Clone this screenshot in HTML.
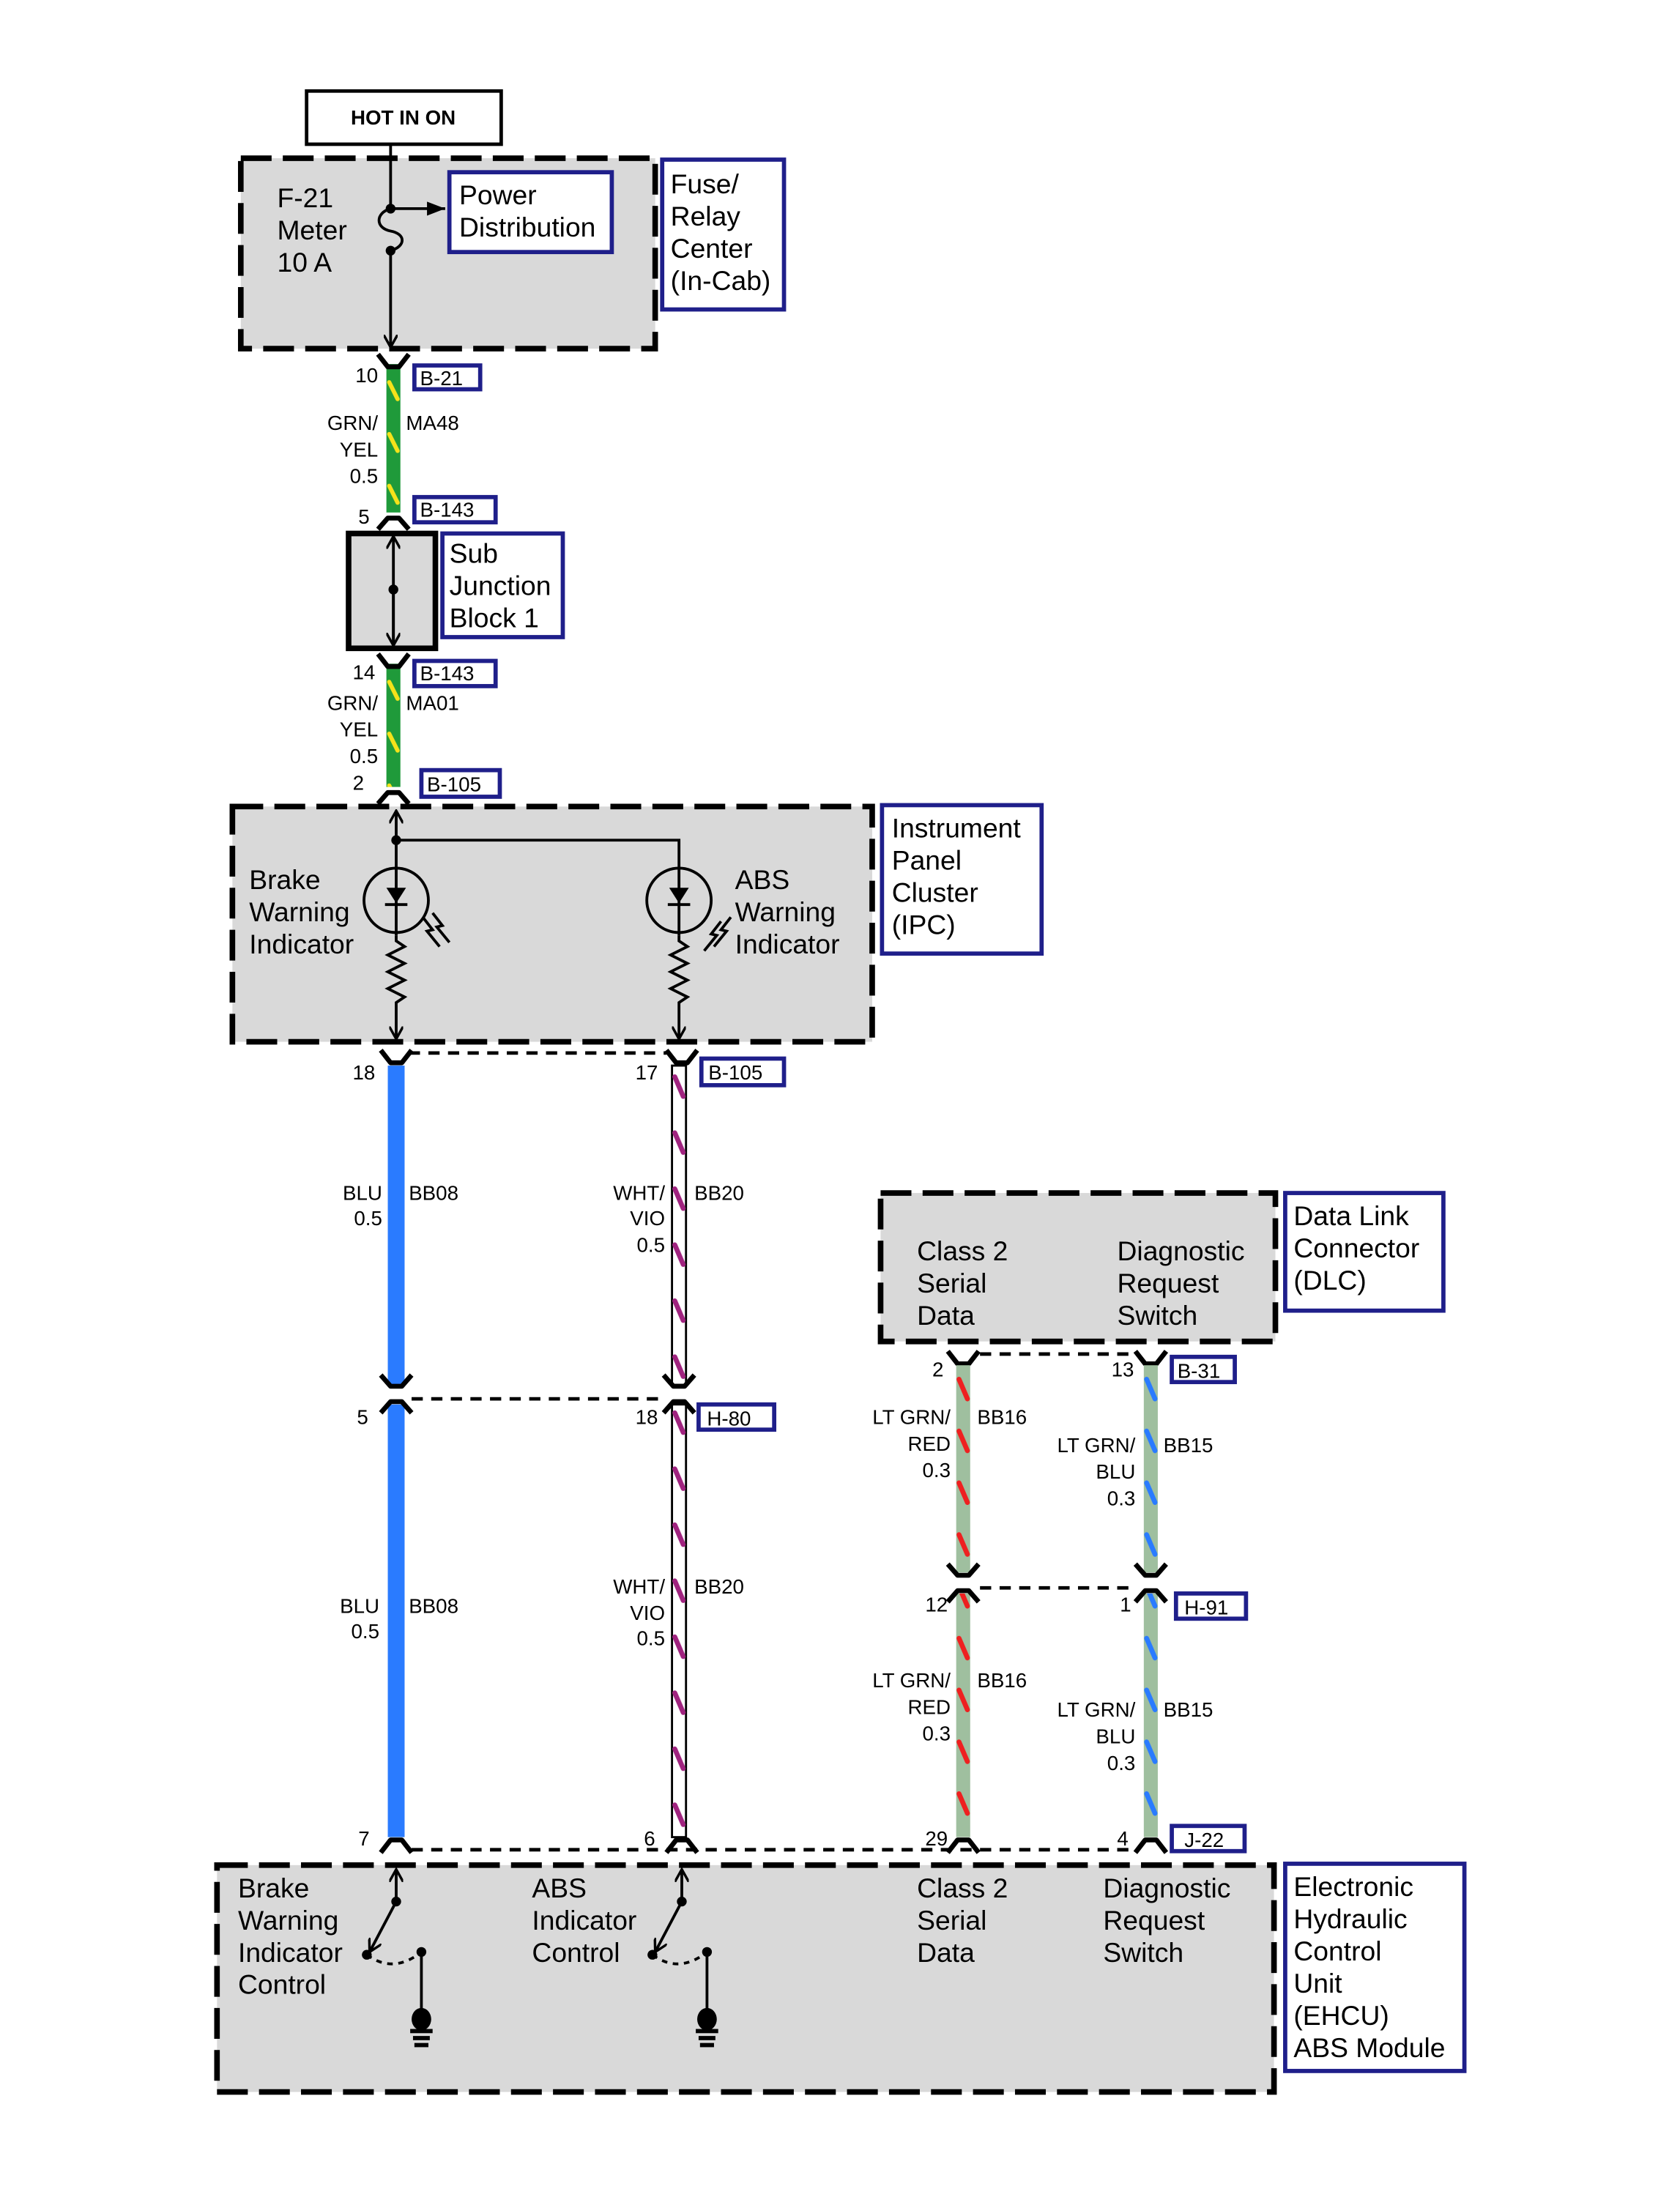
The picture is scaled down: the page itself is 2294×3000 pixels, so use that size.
<!DOCTYPE html>
<html><head><meta charset="utf-8"><style>
html,body{margin:0;padding:0;background:#fff;}
svg{display:block;}
text{font-family:"Liberation Sans",Arial,sans-serif;fill:#000;}
.b{font-size:19.5px;}
.s{font-size:14.5px;}
.r{text-anchor:end;}
.dash{fill:#d9d9d9;stroke:#000;stroke-width:4;stroke-dasharray:22,8;}
.nav{fill:#fff;stroke:#1f1f8a;stroke-width:3;}
.ln{stroke:#000;stroke-width:2;fill:none;}
.cn{stroke:#000;stroke-width:3.5;fill:none;stroke-linejoin:round;}
.dl{stroke:#000;stroke-width:2.5;stroke-dasharray:8,6;fill:none;}
</style></head><body>
<svg width="2294" height="3000" viewBox="0 0 1200 1569" preserveAspectRatio="none" xmlns="http://www.w3.org/2000/svg">
<defs>
<pattern id="pY" patternUnits="userSpaceOnUse" x="276" y="270" width="10" height="37"><line x1="2" y1="3" x2="8" y2="15" stroke="#f5e21a" stroke-width="3" stroke-linecap="round"/></pattern>
<pattern id="pY2" patternUnits="userSpaceOnUse" x="276" y="484" width="10" height="37"><line x1="2" y1="3" x2="8" y2="15" stroke="#f5e21a" stroke-width="3" stroke-linecap="round"/></pattern>
<pattern id="pM" patternUnits="userSpaceOnUse" x="480" y="766" width="10" height="40"><line x1="2" y1="3" x2="8" y2="17" stroke="#a0237f" stroke-width="3.5" stroke-linecap="round"/></pattern>
<pattern id="pR" patternUnits="userSpaceOnUse" x="683" y="982" width="10" height="37"><line x1="2" y1="3" x2="8" y2="17" stroke="#ee2020" stroke-width="3.5" stroke-linecap="round"/></pattern>
<pattern id="pB" patternUnits="userSpaceOnUse" x="817" y="982" width="10" height="37"><line x1="2" y1="3" x2="8" y2="17" stroke="#2a7bff" stroke-width="3.5" stroke-linecap="round"/></pattern>
<marker id="ah" markerWidth="10" markerHeight="10" refX="9" refY="5" orient="auto" markerUnits="userSpaceOnUse"><path d="M0,0 L9,5 L0,10" fill="none" stroke="#000" stroke-width="1.8"/></marker>
<marker id="af" markerWidth="14" markerHeight="10" refX="13" refY="5" orient="auto" markerUnits="userSpaceOnUse"><path d="M0,0 L13,5 L0,10 Z" fill="#000"/></marker>
</defs>

<!-- HOT IN ON -->
<rect x="219" y="65" width="139" height="38" fill="#fff" stroke="#000" stroke-width="2.5"/>
<text x="288" y="89" font-size="14.5" font-weight="bold" text-anchor="middle">HOT IN ON</text>

<!-- Fuse box -->
<rect class="dash" x="172" y="113" width="296" height="136"/>
<text class="b" x="198" y="148">F-21</text>
<text class="b" x="198" y="171">Meter</text>
<text class="b" x="198" y="194">10 A</text>
<rect class="nav" x="321" y="123" width="116" height="57"/>
<text class="b" x="328" y="146">Power</text>
<text class="b" x="328" y="169">Distribution</text>
<rect class="nav" x="473" y="114" width="87" height="107"/>
<text class="b" x="479" y="138">Fuse/</text>
<text class="b" x="479" y="161">Relay</text>
<text class="b" x="479" y="184">Center</text>
<text class="b" x="479" y="207">(In-Cab)</text>
<line class="ln" x1="279" y1="103" x2="279" y2="149"/>
<path class="ln" d="M279,149 C268,152 268,163 279,165 C290,167 290,176 279,179"/>
<line class="ln" x1="279" y1="179" x2="279" y2="248" marker-end="url(#ah)"/>
<circle cx="279" cy="149" r="3.5"/><circle cx="279" cy="179" r="3.5"/>
<line class="ln" x1="279" y1="149" x2="318" y2="149" marker-end="url(#af)"/>

<!-- B-21 connector & wire -->
<rect x="276" y="260" width="10" height="106" fill="#1f9a3a"/>
<rect x="276" y="260" width="10" height="106" fill="url(#pY)"/>
<path class="cn" d="M270,253 L277,262 L285,262 L292,253"/>
<text class="s r" x="270" y="273">10</text>
<rect class="nav" x="296" y="261" width="47" height="17"/>
<text class="s" x="300" y="275">B-21</text>
<text class="s r" x="270" y="307">GRN/</text>
<text class="s r" x="270" y="326">YEL</text>
<text class="s r" x="270" y="345">0.5</text>
<text class="s" x="290" y="307">MA48</text>
<text class="s r" x="264" y="374">5</text>
<rect class="nav" x="296" y="355" width="58" height="18"/>
<text class="s" x="300" y="369">B-143</text>
<path class="cn" d="M270,378 L277,370 L285,370 L292,378"/>

<!-- Sub junction -->
<rect x="249" y="381" width="62" height="82" fill="#d9d9d9" stroke="#000" stroke-width="4"/>
<line class="ln" x1="281" y1="460" x2="281" y2="383" marker-end="url(#ah)"/>
<line class="ln" x1="281" y1="421" x2="281" y2="461" marker-end="url(#ah)"/>
<circle cx="281" cy="421" r="3.5"/>
<rect class="nav" x="316" y="381" width="86" height="74"/>
<text class="b" x="321" y="402">Sub</text>
<text class="b" x="321" y="425">Junction</text>
<text class="b" x="321" y="448">Block 1</text>

<!-- MA01 -->
<rect x="276" y="474" width="10" height="88" fill="#1f9a3a"/>
<rect x="276" y="474" width="10" height="88" fill="url(#pY2)"/>
<path class="cn" d="M270,467 L277,476 L285,476 L292,467"/>
<text class="s r" x="268" y="485">14</text>
<rect class="nav" x="296" y="472" width="58" height="18"/>
<text class="s" x="300" y="486">B-143</text>
<text class="s r" x="270" y="507">GRN/</text>
<text class="s r" x="270" y="526">YEL</text>
<text class="s r" x="270" y="545">0.5</text>
<text class="s" x="290" y="507">MA01</text>
<text class="s r" x="260" y="564">2</text>
<rect class="nav" x="301" y="550" width="56" height="19"/>
<text class="s" x="305" y="565">B-105</text>
<path class="cn" d="M270,574 L277,566 L285,566 L292,574"/>

<!-- IPC -->
<rect class="dash" x="166" y="576" width="457" height="168"/>
<rect class="nav" x="630" y="575" width="114" height="106"/>
<text class="b" x="637" y="598">Instrument</text>
<text class="b" x="637" y="621">Panel</text>
<text class="b" x="637" y="644">Cluster</text>
<text class="b" x="637" y="667">(IPC)</text>
<line class="ln" x1="283" y1="620" x2="283" y2="579" marker-end="url(#ah)"/>
<polyline class="ln" points="283,600 485,600 485,620"/>
<circle cx="283" cy="600" r="3.5"/>
<g id="bulb">
<circle cx="283" cy="643" r="23" fill="none" stroke="#000" stroke-width="2"/>
<line class="ln" x1="283" y1="620" x2="283" y2="668"/>
<path d="M276,634 L290,634 L283,645 Z" fill="#000"/>
<line x1="275" y1="646" x2="291" y2="646" stroke="#000" stroke-width="2"/>
<polyline class="ln" points="283,668 283,672 289,676 277,682 289,688 277,694 289,700 277,706 289,712 283,716 283,742" marker-end="url(#ah)"/>
</g>
<use href="#bulb" x="202"/>
<g stroke="#000" stroke-width="2" fill="none">
<polyline points="302,655 309,664 305,665 314,676"/><polyline points="309,652 316,661 312,662 321,673"/>
<polyline points="522,655 515,664 519,665 510,676"/><polyline points="515,658 508,667 512,668 503,679"/>
</g>
<text class="b" x="178" y="635">Brake</text>
<text class="b" x="178" y="658">Warning</text>
<text class="b" x="178" y="681">Indicator</text>
<text class="b" x="525" y="635">ABS</text>
<text class="b" x="525" y="658">Warning</text>
<text class="b" x="525" y="681">Indicator</text>

<!-- B-105 lower connectors -->
<line class="dl" x1="292" y1="752" x2="476" y2="752"/>
<path class="cn" d="M272,750 L279,759 L287,759 L294,750"/>
<path class="cn" d="M476,750 L483,759 L491,759 L498,750"/>
<text class="s r" x="268" y="771">18</text>
<text class="s r" x="470" y="771">17</text>
<rect class="nav" x="501" y="756" width="59" height="19"/>
<text class="s" x="506" y="771">B-105</text>

<!-- blue wire -->
<rect x="277" y="761" width="12" height="228" fill="#2a7bff"/>
<rect x="277" y="1003" width="12" height="309" fill="#2a7bff"/>
<!-- white/vio wire -->
<rect x="480" y="761" width="10" height="228" fill="#fff" stroke="#000" stroke-width="1.5"/>
<rect x="480" y="761" width="10" height="228" fill="url(#pM)"/>
<rect x="480" y="1003" width="10" height="309" fill="#fff" stroke="#000" stroke-width="1.5"/>
<rect x="480" y="1003" width="10" height="309" fill="url(#pM)"/>
<text class="s r" x="273" y="857">BLU</text>
<text class="s r" x="273" y="875">0.5</text>
<text class="s" x="292" y="857">BB08</text>
<text class="s r" x="475" y="857">WHT/</text>
<text class="s r" x="475" y="875">VIO</text>
<text class="s r" x="475" y="894">0.5</text>
<text class="s" x="496" y="857">BB20</text>

<!-- H-80 -->
<line class="dl" x1="294" y1="999" x2="474" y2="999"/>
<path class="cn" d="M272,982 L279,990 L287,990 L294,982"/>
<path class="cn" d="M272,1009 L279,1001 L287,1001 L294,1009"/>
<path class="cn" d="M474,982 L481,990 L489,990 L496,982"/>
<path class="cn" d="M474,1009 L481,1001 L489,1001 L496,1009"/>
<text class="s r" x="263" y="1017">5</text>
<text class="s r" x="470" y="1017">18</text>
<rect class="nav" x="499" y="1003" width="54" height="18"/>
<text class="s" x="505" y="1018">H-80</text>
<text class="s r" x="271" y="1152">BLU</text>
<text class="s r" x="271" y="1170">0.5</text>
<text class="s" x="292" y="1152">BB08</text>
<text class="s r" x="475" y="1138">WHT/</text>
<text class="s r" x="475" y="1157">VIO</text>
<text class="s r" x="475" y="1175">0.5</text>
<text class="s" x="496" y="1138">BB20</text>

<!-- DLC -->
<rect class="dash" x="629" y="852" width="282" height="106"/>
<rect class="nav" x="918" y="852" width="113" height="84"/>
<text class="b" x="924" y="875">Data Link</text>
<text class="b" x="924" y="898">Connector</text>
<text class="b" x="924" y="921">(DLC)</text>
<text class="b" x="655" y="900">Class 2</text>
<text class="b" x="655" y="923">Serial</text>
<text class="b" x="655" y="946">Data</text>
<text class="b" x="798" y="900">Diagnostic</text>
<text class="b" x="798" y="923">Request</text>
<text class="b" x="798" y="946">Switch</text>

<line class="dl" x1="700" y1="967" x2="810" y2="967"/>
<path class="cn" d="M677,965 L684,974 L692,974 L699,965"/>
<path class="cn" d="M811,965 L818,974 L826,974 L833,965"/>
<text class="s r" x="674" y="983">2</text>
<text class="s r" x="810" y="983">13</text>
<rect class="nav" x="837" y="969" width="45" height="18"/>
<text class="s" x="841" y="984">B-31</text>

<rect x="683" y="975" width="10" height="148" fill="#9fbf9f"/>
<rect x="683" y="975" width="10" height="148" fill="url(#pR)"/>
<rect x="817" y="975" width="10" height="148" fill="#9fbf9f"/>
<rect x="817" y="975" width="10" height="148" fill="url(#pB)"/>
<rect x="683" y="1138" width="10" height="174" fill="#9fbf9f"/>
<rect x="683" y="1138" width="10" height="174" fill="url(#pR)"/>
<rect x="817" y="1138" width="10" height="174" fill="#9fbf9f"/>
<rect x="817" y="1138" width="10" height="174" fill="url(#pB)"/>
<text class="s r" x="679" y="1017">LT GRN/</text>
<text class="s r" x="679" y="1036">RED</text>
<text class="s r" x="679" y="1055">0.3</text>
<text class="s" x="698" y="1017">BB16</text>
<text class="s r" x="811" y="1037">LT GRN/</text>
<text class="s r" x="811" y="1056">BLU</text>
<text class="s r" x="811" y="1075">0.3</text>
<text class="s" x="831" y="1037">BB15</text>

<!-- H-91 -->
<line class="dl" x1="700" y1="1134" x2="810" y2="1134"/>
<path class="cn" d="M677,1117 L684,1125 L692,1125 L699,1117"/>
<path class="cn" d="M677,1144 L684,1136 L692,1136 L699,1144"/>
<path class="cn" d="M811,1117 L818,1125 L826,1125 L833,1117"/>
<path class="cn" d="M811,1144 L818,1136 L826,1136 L833,1144"/>
<text class="s r" x="677" y="1151">12</text>
<text class="s r" x="808" y="1151">1</text>
<rect class="nav" x="840" y="1138" width="50" height="18"/>
<text class="s" x="846" y="1153">H-91</text>
<text class="s r" x="679" y="1205">LT GRN/</text>
<text class="s r" x="679" y="1224">RED</text>
<text class="s r" x="679" y="1243">0.3</text>
<text class="s" x="698" y="1205">BB16</text>
<text class="s r" x="811" y="1226">LT GRN/</text>
<text class="s r" x="811" y="1245">BLU</text>
<text class="s r" x="811" y="1264">0.3</text>
<text class="s" x="831" y="1226">BB15</text>

<!-- J-22 -->
<line class="dl" x1="294" y1="1321" x2="812" y2="1321"/>
<path class="cn" d="M272,1323 L279,1314 L287,1314 L294,1323"/>
<path class="cn" d="M476,1323 L483,1314 L491,1314 L498,1323"/>
<path class="cn" d="M677,1323 L684,1314 L692,1314 L699,1323"/>
<path class="cn" d="M811,1323 L818,1314 L826,1314 L833,1323"/>
<text class="s r" x="264" y="1318">7</text>
<text class="s r" x="468" y="1318">6</text>
<text class="s r" x="677" y="1318">29</text>
<text class="s r" x="806" y="1318">4</text>
<rect class="nav" x="837" y="1304" width="52" height="18"/>
<text class="s" x="846" y="1319">J-22</text>

<!-- EHCU -->
<rect class="dash" x="155" y="1332" width="755" height="162"/>
<rect class="nav" x="918" y="1331" width="128" height="148"/>
<text class="b" x="924" y="1354">Electronic</text>
<text class="b" x="924" y="1377">Hydraulic</text>
<text class="b" x="924" y="1400">Control</text>
<text class="b" x="924" y="1423">Unit</text>
<text class="b" x="924" y="1446">(EHCU)</text>
<text class="b" x="924" y="1469">ABS Module</text>
<text class="b" x="170" y="1355">Brake</text>
<text class="b" x="170" y="1378">Warning</text>
<text class="b" x="170" y="1401">Indicator</text>
<text class="b" x="170" y="1424">Control</text>
<text class="b" x="380" y="1355">ABS</text>
<text class="b" x="380" y="1378">Indicator</text>
<text class="b" x="380" y="1401">Control</text>
<text class="b" x="655" y="1355">Class 2</text>
<text class="b" x="655" y="1378">Serial</text>
<text class="b" x="655" y="1401">Data</text>
<text class="b" x="788" y="1355">Diagnostic</text>
<text class="b" x="788" y="1378">Request</text>
<text class="b" x="788" y="1401">Switch</text>
<g id="sw">
<line class="ln" x1="283" y1="1358" x2="283" y2="1335" marker-end="url(#ah)"/>
<circle cx="283" cy="1358" r="3.5"/>
<line class="ln" x1="283" y1="1358" x2="264" y2="1394" marker-end="url(#ah)"/>
<circle cx="262" cy="1396" r="3.5"/>
<path d="M262,1396 Q281,1410 301,1394" fill="none" stroke="#000" stroke-width="2" stroke-dasharray="4,4"/>
<circle cx="301" cy="1394" r="3.5"/>
<line class="ln" x1="301" y1="1394" x2="301" y2="1436"/>
<ellipse cx="301" cy="1442" rx="7" ry="8"/>
<rect x="293" y="1449" width="16" height="3"/>
<rect x="295" y="1454" width="12" height="3"/>
<rect x="296" y="1459" width="10" height="3"/>
</g>
<use href="#sw" x="204"/>
</svg>
</body></html>
